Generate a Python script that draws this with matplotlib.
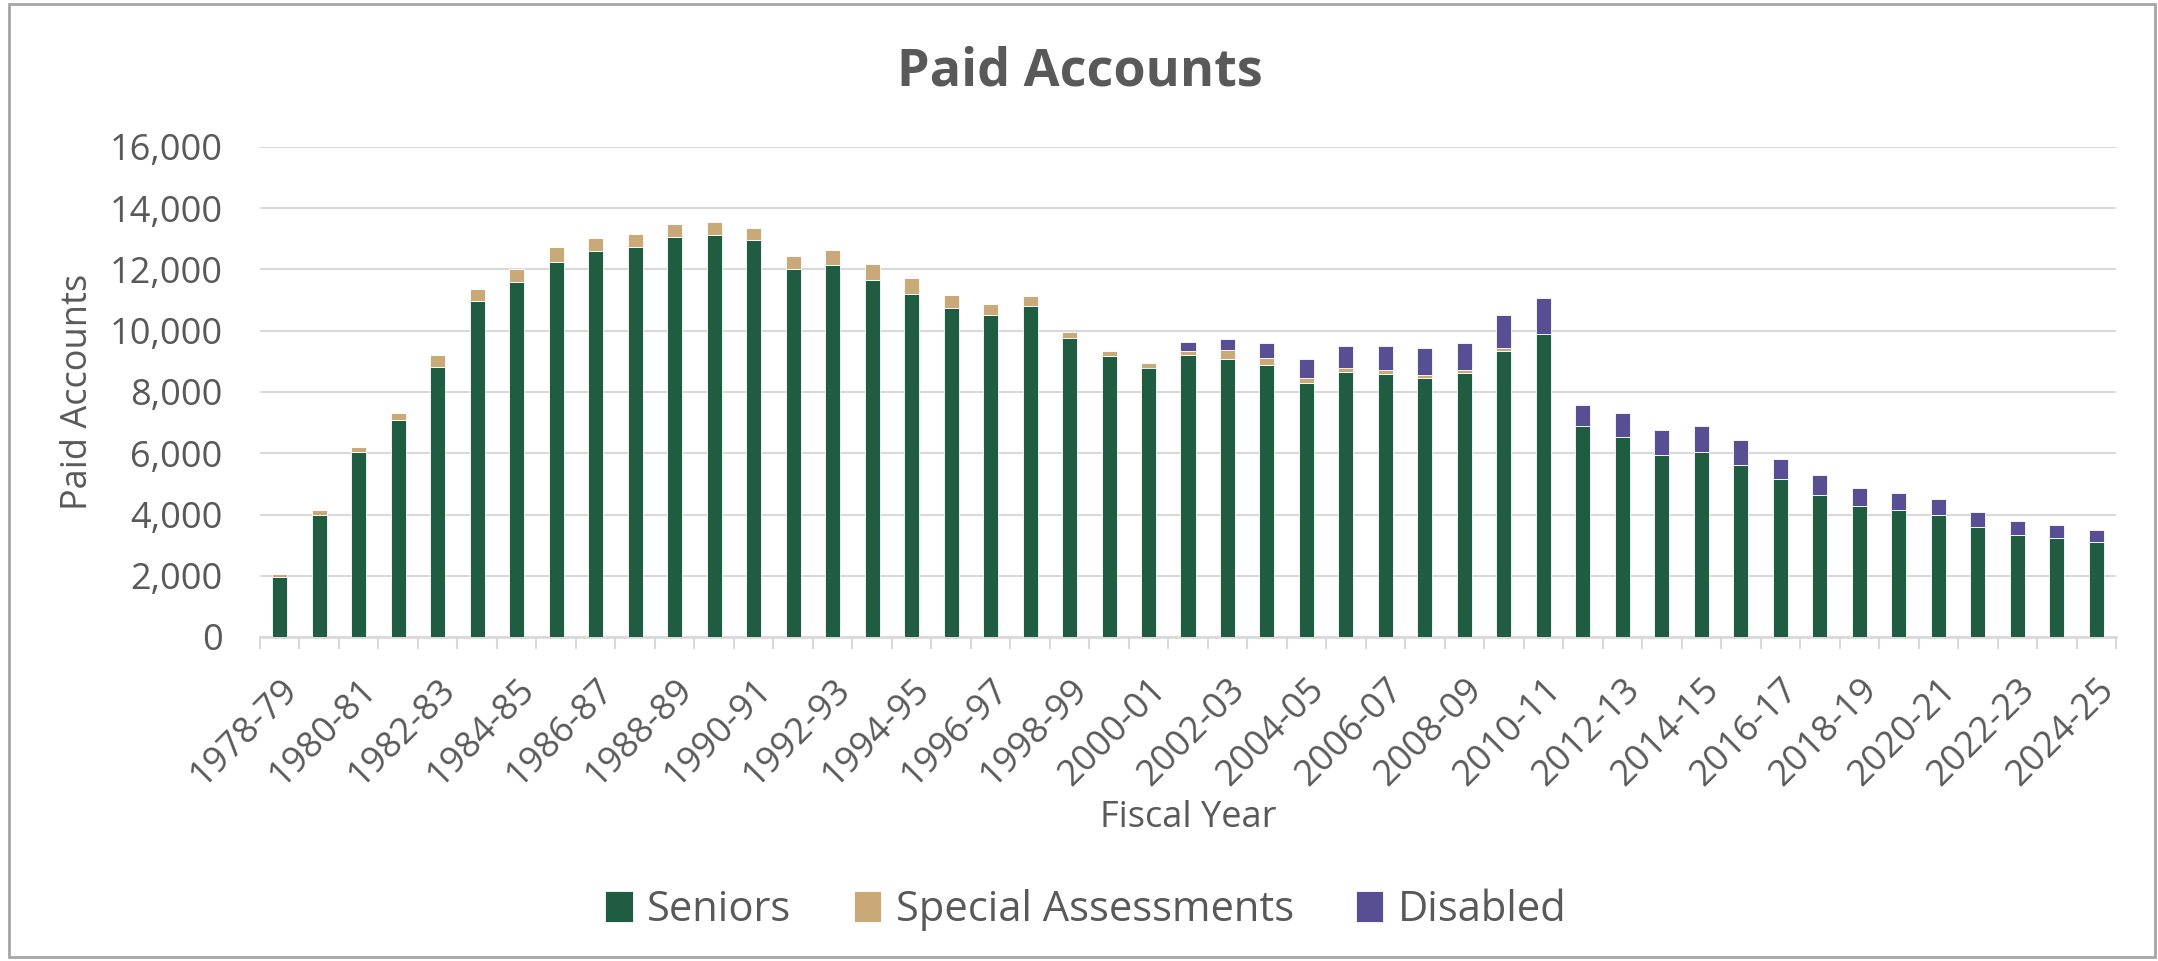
import numpy as np
import matplotlib
matplotlib.use("Agg")
import matplotlib.pyplot as plt
from matplotlib.patches import Rectangle
from matplotlib.ticker import FuncFormatter, MultipleLocator

plt.rcParams['font.family'] = ['Open Sans', 'DejaVu Sans']

fiscal_years = [
    "1978-79", "1979-80", "1980-81", "1981-82", "1982-83", "1983-84", "1984-85",
    "1985-86", "1986-87", "1987-88", "1988-89", "1989-90", "1990-91", "1991-92",
    "1992-93", "1993-94", "1994-95", "1995-96", "1996-97", "1997-98", "1998-99",
    "1999-00", "2000-01", "2001-02", "2002-03", "2003-04", "2004-05", "2005-06",
    "2006-07", "2007-08", "2008-09", "2009-10", "2010-11", "2011-12", "2012-13",
    "2013-14", "2014-15", "2015-16", "2016-17", "2017-18", "2018-19", "2019-20",
    "2020-21", "2021-22", "2022-23", "2023-24", "2024-25",
]

seniors = [1950, 3980, 6030, 7080, 8820, 10970, 11600, 12230, 12620, 12740, 13060, 13140,
           12970, 12020, 12150, 11660, 11200, 10750, 10500, 10800, 9760, 9160, 8800,
           9200, 9090, 8880, 8280, 8640, 8590, 8470, 8630, 9340, 9880,
           6880, 6530, 5930, 6030, 5630, 5160, 4650, 4290, 4140, 3980, 3580, 3340, 3220, 3100]

special = [110, 180, 170, 250, 390, 380, 420, 500, 420, 420, 420, 400,
           370, 420, 490, 520, 510, 430, 370, 350, 190, 170, 160,
           140, 270, 230, 170, 160, 120, 90, 90, 90, 0,
           0, 0, 0, 0, 0, 0, 0, 0, 0, 0, 0, 0, 0, 0]

disabled = [0, 0, 0, 0, 0, 0, 0, 0, 0, 0, 0, 0,
            0, 0, 0, 0, 0, 0, 0, 0, 0, 0, 0,
            280, 380, 500, 640, 710, 790, 880, 880, 1100, 1190,
            690, 790, 830, 870, 810, 660, 630, 580, 570, 540, 490, 460, 430, 390]

green = "#1F5C42"
tan = "#C9A977"
purple = "#584E94"
text_col = "#595959"
grid_col = "#D9D9D9"

W, H = 2158, 961
fig = plt.figure(figsize=(W / 100, H / 100), dpi=100)
ax = fig.add_axes([260 / W, 1 - 637 / H, (2116 - 260) / W, (637 - 147) / H])

x = np.arange(len(fiscal_years))
s = np.array(seniors)
sp = np.array(special)
d = np.array(disabled)
bw = 0.38
ax.bar(x, s, bw, color=green, edgecolor="white", linewidth=0.6, label="Seniors", zorder=3)
ax.bar(x, sp, bw, bottom=s, color=tan, edgecolor="white", linewidth=0.6,
       label="Special Assessments", zorder=3)
ax.bar(x, d, bw, bottom=s + sp, color=purple, edgecolor="white", linewidth=0.6,
       label="Disabled", zorder=3)

ax.set_xlim(-0.5, len(x) - 0.5)
ax.set_ylim(0, 16000)
ax.yaxis.set_major_locator(MultipleLocator(2000))
ax.yaxis.set_major_formatter(FuncFormatter(lambda v, p: f"{int(v):,}"))
ax.grid(axis="y", color=grid_col, linewidth=1.5, zorder=0)
ax.set_axisbelow(True)

for side in ["top", "right", "left"]:
    ax.spines[side].set_visible(False)
ax.spines["bottom"].set_color(grid_col)
ax.spines["bottom"].set_linewidth(2)

ax.tick_params(axis="y", length=0, pad=27, labelsize=26, labelcolor=text_col)
ax.set_xticks(x[::2])
ax.set_xticklabels(fiscal_years[::2], rotation=45, ha="right", va="top",
                   rotation_mode="anchor")
ax.set_xticks(np.arange(-0.5, len(x), 1), minor=True)
ax.tick_params(axis="x", which="major", length=0, pad=25, labelsize=26, labelcolor=text_col)
ax.tick_params(axis="x", which="minor", length=8.5, width=1.5, color=grid_col)

fig.text(1080 / W, 1 - 72 / H, "Paid Accounts", ha="center", va="center",
         fontsize=37.5, fontweight="bold", color=text_col)
fig.text(78 / W, 1 - 392 / H, "Paid Accounts", ha="center", va="center",
         rotation=90, fontsize=26, color=text_col)
fig.text(1188 / W, 1 - 818 / H, "Fiscal Year", ha="center", va="center",
         fontsize=26, color=text_col)

fig.legend(loc="center", bbox_to_anchor=(1086 / W, 1 - 910 / H), ncol=3, frameon=False,
           fontsize=30, labelcolor=text_col, handlelength=0.65, handleheight=0.75,
           handletextpad=0.35, columnspacing=1.5)

fig.patches.append(Rectangle((9 / W, 4 / H), (2155 - 9) / W, (957 - 4) / H,
                             transform=fig.transFigure, fill=False,
                             edgecolor="#A6A6A6", linewidth=2))

fig.savefig("out.png", dpi=100, facecolor="white")
